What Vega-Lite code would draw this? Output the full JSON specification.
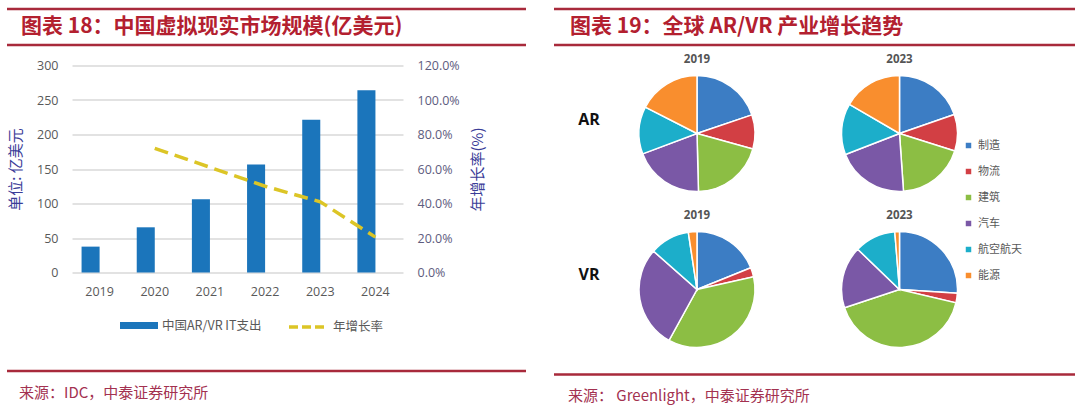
{
  "$schema": "https://vega.github.io/schema/vega-lite/v6.json",
  "background": "white",
  "padding": {"left": 5, "top": 7, "right": 0, "bottom": 0},
  "config": {
    "view": {"stroke": null},
    "font": "Noto Sans CJK SC",
    "axis": {"labelFont": "Open Sans", "titleFont": "Noto Sans CJK SC"},
    "legend": {"labelFont": "Noto Sans CJK SC"}
  },
  "spacing": 24,
  "resolve": {"scale": {"color": "independent", "stroke": "independent"}, "legend": {"color": "independent", "stroke": "independent"}},
  "hconcat": [
    {
      "spacing": 12.5,
      "resolve": {"scale": {"color": "independent", "stroke": "independent"}, "legend": {"color": "independent", "stroke": "independent"}},
      "vconcat": [
        {
          "width": 519, "height": 36,
          "view": {"stroke": "#A82A3B", "strokeWidth": 2.5, "strokeDash": [519, 36]},
          "data": {"values": [{"t": "图表 18：中国虚拟现实市场规模(亿美元)"}]},
          "mark": {"type": "text", "align": "left", "baseline": "middle", "dx": 14, "fontSize": 21, "fontWeight": "bold", "color": "#B3202F"},
          "encoding": {
            "text": {"field": "t"},
            "x": {"datum": 0, "type": "quantitative", "scale": {"domain": [0, 1]}, "axis": null},
            "y": {"datum": 0.5, "type": "quantitative", "scale": {"domain": [0, 1]}, "axis": null}
          }
        },
        {
          "spacing": 34.5,
          "resolve": {"scale": {"color": "independent", "stroke": "independent"}, "legend": {"color": "independent", "stroke": "independent"}},
          "vconcat": [
            {
              "spacing": 0,
              "resolve": {"scale": {"color": "independent", "stroke": "independent"}, "legend": {"color": "independent", "stroke": "independent"}},
              "hconcat": [
                {
                  "width": 1, "height": 1,
                  "data": {"values": []},
                  "mark": {"type": "text"},
                  "encoding": {}
                },
                {
                  "width": 331, "height": 207,
                  "data": {"values": [
                    {"year": "2019", "spend": 37.5, "growth": null},
                    {"year": "2020", "spend": 65.5, "growth": 0.72},
                    {"year": "2021", "spend": 106, "growth": 0.61},
                    {"year": "2022", "spend": 156.5, "growth": 0.5},
                    {"year": "2023", "spend": 221.5, "growth": 0.41},
                    {"year": "2024", "spend": 264, "growth": 0.205}
                  ]},
                  "encoding": {
                    "x": {"field": "year", "type": "ordinal", "scale": {"paddingInner": 0.673, "paddingOuter": 0.3365},
                      "axis": {"title": null, "labelAngle": 0, "domain": false, "ticks": false, "labelPadding": 13, "labelFontSize": 12.5, "labelColor": "#595959"}}
                  },
                  "layer": [
                    {
                      "mark": {"type": "bar", "xOffset": -9},
                      "encoding": {
                        "y": {"field": "spend", "type": "quantitative", "scale": {"domain": [0, 300]},
                          "axis": {"values": [0, 50, 100, 150, 200, 250, 300], "title": "单位: 亿美元", "titleFontSize": 15, "titleColor": "#3B3D98", "titleFontWeight": "normal", "titlePadding": 13.5, "labelPadding": 14, "labelFontSize": 12.5, "labelColor": "#595959", "domain": false, "ticks": false, "grid": true, "gridColor": "#D9D9D9", "gridWidth": 1.5}},
                        "color": {"datum": "中国AR/VR IT支出", "scale": {"range": ["#1B75BB"]},
                          "legend": {"orient": "none", "legendX": 48, "legendY": 241, "title": null, "symbolType": "M-1,-0.18H1V0.18H-1Z", "symbolSize": 1444, "symbolStrokeWidth": 0, "labelFontSize": 12.5, "labelColor": "#595959", "labelOffset": 4}}
                      }
                    },
                    {
                      "mark": {"type": "line", "strokeDash": [14, 7], "strokeWidth": 3.5},
                      "encoding": {
                        "y": {"field": "growth", "type": "quantitative", "scale": {"domain": [0, 1.2]},
                          "axis": {"orient": "right", "format": ".1%", "values": [0, 0.2, 0.4, 0.6, 0.8, 1.0, 1.2], "title": "年增长率(%)", "titleAngle": 270, "titleBaseline": "top", "titleFontSize": 15, "titleColor": "#3B3D98", "titleFontWeight": "normal", "titlePadding": 11, "labelPadding": 14, "labelFontSize": 12.5, "labelColor": "#5E5C7E", "domain": false, "ticks": false, "grid": false}},
                        "stroke": {"datum": "年增长率", "scale": {"range": ["#DCC526"]},
                          "legend": {"orient": "none", "legendX": 215, "legendY": 241, "title": null, "symbolType": "stroke", "symbolSize": 1369, "symbolStrokeWidth": 3.5, "symbolDash": [9, 4], "labelFontSize": 12.5, "labelColor": "#595959", "labelOffset": 5}}
                      }
                    }
                  ],
                  "resolve": {"scale": {"y": "independent"}}
                }
              ]
            },
            {
              "width": 519, "height": 36,
              "view": {"stroke": "#A82A3B", "strokeWidth": 2.5, "strokeDash": [519, 2000]},
              "data": {"values": [{"t": "来源：IDC，中泰证券研究所"}]},
              "mark": {"type": "text", "align": "left", "baseline": "middle", "dx": 12, "fontSize": 15, "color": "#A33150"},
              "encoding": {
                "text": {"field": "t"},
                "x": {"datum": 0, "type": "quantitative", "scale": {"domain": [0, 1]}, "axis": null},
                "y": {"datum": 0.6, "type": "quantitative", "scale": {"domain": [0, 1], "reverse": true}, "axis": null}
              }
            }
          ]
        }
      ]
    },
    {
      "spacing": 6.5,
      "resolve": {"scale": {"color": "independent", "stroke": "independent"}, "legend": {"color": "independent", "stroke": "independent"}},
      "vconcat": [
        {
          "width": 521, "height": 36,
          "view": {"stroke": "#A82A3B", "strokeWidth": 2.5, "strokeDash": [521, 36]},
          "data": {"values": [{"t": "图表 19：全球 AR/VR 产业增长趋势"}]},
          "mark": {"type": "text", "align": "left", "baseline": "middle", "dx": 16, "fontSize": 21, "fontWeight": "bold", "color": "#B3202F"},
          "encoding": {
            "text": {"field": "t"},
            "x": {"datum": 0, "type": "quantitative", "scale": {"domain": [0, 1]}, "axis": null},
            "y": {"datum": 0.5, "type": "quantitative", "scale": {"domain": [0, 1]}, "axis": null}
          }
        },
        {
          "spacing": 22,
          "resolve": {"scale": {"color": "independent", "stroke": "independent"}, "legend": {"color": "independent", "stroke": "independent"}},
          "vconcat": [
            {
              "spacing": 12,
              "resolve": {"scale": {"color": "independent"}, "legend": {"color": "independent"}},
              "hconcat": [
                {
                  "width": 70, "height": 248,
                  "data": {"values": [{"tech": "AR"}, {"tech": "VR"}]},
                  "mark": {"type": "text", "fontSize": 16, "fontWeight": "bold", "color": "#111111", "font": "Open Sans", "baseline": "middle"},
                  "encoding": {
                    "text": {"field": "tech"},
                    "x": {"datum": 0.5, "type": "quantitative", "scale": {"domain": [0, 1]}, "axis": null},
                    "y": {"field": "tech", "type": "nominal", "scale": {"type": "point", "padding": 0.295}, "axis": null}
                  }
                },
                {
                  "data": {"values": [
                    {"panel": "AR 2019", "sector": "制造", "ord": 1, "value": 19.8},
                    {"panel": "AR 2019", "sector": "物流", "ord": 2, "value": 9.5},
                    {"panel": "AR 2019", "sector": "建筑", "ord": 3, "value": 20.3},
                    {"panel": "AR 2019", "sector": "汽车", "ord": 4, "value": 19.7},
                    {"panel": "AR 2019", "sector": "航空航天", "ord": 5, "value": 13.2},
                    {"panel": "AR 2019", "sector": "能源", "ord": 6, "value": 17.5},
                    {"panel": "AR 2023", "sector": "制造", "ord": 1, "value": 19.7},
                    {"panel": "AR 2023", "sector": "物流", "ord": 2, "value": 10.2},
                    {"panel": "AR 2023", "sector": "建筑", "ord": 3, "value": 19.0},
                    {"panel": "AR 2023", "sector": "汽车", "ord": 4, "value": 20.2},
                    {"panel": "AR 2023", "sector": "航空航天", "ord": 5, "value": 14.3},
                    {"panel": "AR 2023", "sector": "能源", "ord": 6, "value": 16.6},
                    {"panel": "VR 2019", "sector": "制造", "ord": 1, "value": 18.9},
                    {"panel": "VR 2019", "sector": "物流", "ord": 2, "value": 2.6},
                    {"panel": "VR 2019", "sector": "建筑", "ord": 3, "value": 36.5},
                    {"panel": "VR 2019", "sector": "汽车", "ord": 4, "value": 28.5},
                    {"panel": "VR 2019", "sector": "航空航天", "ord": 5, "value": 11.1},
                    {"panel": "VR 2019", "sector": "能源", "ord": 6, "value": 2.4},
                    {"panel": "VR 2023", "sector": "制造", "ord": 1, "value": 26.0},
                    {"panel": "VR 2023", "sector": "物流", "ord": 2, "value": 2.7},
                    {"panel": "VR 2023", "sector": "建筑", "ord": 3, "value": 41.2},
                    {"panel": "VR 2023", "sector": "汽车", "ord": 4, "value": 17.3},
                    {"panel": "VR 2023", "sector": "航空航天", "ord": 5, "value": 11.5},
                    {"panel": "VR 2023", "sector": "能源", "ord": 6, "value": 1.3}
                  ]},
                  "columns": 2,
                  "facet": {"field": "panel", "type": "nominal",
                    "header": {"title": null, "labelExpr": "split(datum.value, ' ')[1]", "labelFont": "Open Sans", "labelFontSize": 11.5, "labelFontWeight": "bold", "labelColor": "#555555", "labelPadding": 7}},
                  "spacing": {"row": 15, "column": 80.5},
                  "spec": {
                    "width": 120, "height": 120,
                    "mark": {"type": "arc", "outerRadius": 58, "stroke": "#ffffff", "strokeWidth": 1.5},
                    "encoding": {
                      "theta": {"field": "value", "type": "quantitative", "stack": true},
                      "order": {"field": "ord", "type": "quantitative"},
                      "color": {"field": "sector", "type": "nominal",
                        "scale": {"domain": ["制造", "物流", "建筑", "汽车", "航空航天", "能源"], "range": ["#3C7DC4", "#D23F44", "#8CBE44", "#7A58A6", "#1CAECA", "#F98E2E"]},
                        "legend": {"orient": "none", "legendX": 326, "legendY": 66.5, "title": null, "symbolType": "square", "symbolSize": 30, "symbolStrokeWidth": 0, "labelFontSize": 11, "labelColor": "#595959", "labelOffset": 4, "rowPadding": 14}}
                    }
                  }
                }
              ]
            },
            {
              "width": 521, "height": 36,
              "view": {"stroke": "#A82A3B", "strokeWidth": 2.5, "strokeDash": [521, 2000]},
              "data": {"values": [{"t": "来源：  Greenlight，中泰证券研究所"}]},
              "mark": {"type": "text", "align": "left", "baseline": "middle", "dx": 14, "fontSize": 15, "color": "#A33150"},
              "encoding": {
                "text": {"field": "t"},
                "x": {"datum": 0, "type": "quantitative", "scale": {"domain": [0, 1]}, "axis": null},
                "y": {"datum": 0.6, "type": "quantitative", "scale": {"domain": [0, 1], "reverse": true}, "axis": null}
              }
            }
          ]
        }
      ]
    }
  ]
}
